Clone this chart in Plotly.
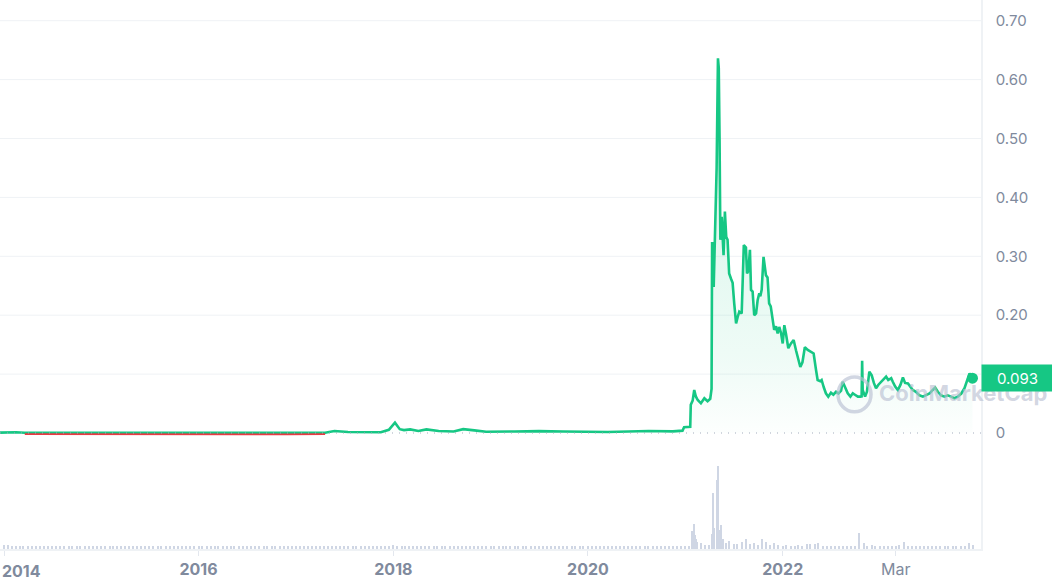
import pandas as pd
import plotly.graph_objects as go

GREEN = "#16c784"
RED = "#ea3943"
TEXT_GREY = "#808a9d"
GRID = "#eff2f5"
VOL_COLOR = "#cfd6e4"

# price (USD)
price_dates = [
    "2013-12-17", "2014-01-20", "2014-02-15", "2014-03-20", "2014-06-01",
    "2014-09-01", "2015-01-01", "2015-06-01", "2015-12-01", "2016-06-01",
    "2016-12-01", "2017-04-20", "2017-05-25", "2017-07-15", "2017-09-01",
    "2017-11-15", "2017-12-15", "2018-01-07", "2018-01-25", "2018-02-10",
    "2018-03-05", "2018-04-05", "2018-05-05", "2018-06-20", "2018-08-15",
    "2018-09-20", "2018-11-01", "2018-12-15", "2019-04-01", "2019-07-01",
    "2019-10-01", "2020-01-01", "2020-03-15", "2020-06-01", "2020-08-15",
    "2020-11-15", "2020-12-21", "2020-12-27", "2021-01-19", "2021-01-21",
    "2021-01-28", "2021-02-03", "2021-02-09", "2021-02-16", "2021-02-28",
    "2021-03-13", "2021-03-25", "2021-04-04", "2021-04-09", "2021-04-11",
    "2021-04-14", "2021-04-17", "2021-04-22", "2021-04-28", "2021-05-03",
    "2021-05-06", "2021-05-09", "2021-05-12", "2021-05-17", "2021-05-21",
    "2021-05-24", "2021-05-29", "2021-06-03", "2021-06-08", "2021-06-14",
    "2021-06-21", "2021-06-27", "2021-07-03", "2021-07-10", "2021-07-16",
    "2021-07-22", "2021-07-31", "2021-08-08", "2021-08-16", "2021-08-20",
    "2021-08-25", "2021-08-31", "2021-09-04", "2021-09-10", "2021-09-16",
    "2021-09-23", "2021-09-29", "2021-10-05", "2021-10-09", "2021-10-14",
    "2021-10-21", "2021-10-30", "2021-11-05", "2021-11-11", "2021-11-17",
    "2021-11-24", "2021-11-30", "2021-12-07", "2021-12-13", "2021-12-19",
    "2021-12-26", "2022-01-01", "2022-01-07", "2022-01-13", "2022-01-22",
    "2022-02-01", "2022-02-11", "2022-02-20", "2022-02-26", "2022-03-08",
    "2022-03-16", "2022-03-25", "2022-04-05", "2022-04-17", "2022-04-27",
    "2022-05-06", "2022-05-12", "2022-05-22", "2022-05-27", "2022-06-04",
    "2022-06-12", "2022-06-21", "2022-07-01", "2022-07-10", "2022-07-20",
    "2022-07-29", "2022-08-08", "2022-08-14", "2022-08-23", "2022-09-02",
    "2022-09-12", "2022-09-21", "2022-09-29", "2022-10-10", "2022-10-19",
    "2022-10-24", "2022-10-26", "2022-10-28", "2022-11-06", "2022-11-13",
    "2022-11-22", "2022-12-01", "2022-12-09", "2022-12-17", "2022-12-26",
    "2023-01-05", "2023-01-15", "2023-01-24", "2023-02-01", "2023-02-12",
    "2023-02-18", "2023-02-27", "2023-03-09", "2023-03-19", "2023-03-28",
    "2023-04-05", "2023-04-16", "2023-04-25", "2023-05-04", "2023-05-16",
    "2023-05-29", "2023-06-11", "2023-06-23", "2023-07-06", "2023-07-18",
    "2023-07-27", "2023-08-06", "2023-08-18", "2023-08-31", "2023-09-12",
    "2023-09-25", "2023-10-07", "2023-10-20", "2023-11-02", "2023-11-14",
    "2023-11-23", "2023-12-03", "2023-12-14",
]
price_values = [
    0.00056, 0.0016, 0.0012, 0.0005, 0.0004,
    0.00025, 0.00015, 0.00013, 0.00015, 0.0003,
    0.00022, 0.0005, 0.0033, 0.0018, 0.0012,
    0.0013, 0.0055, 0.0175, 0.0065, 0.005,
    0.0062, 0.0035, 0.0062, 0.0035, 0.0025,
    0.0065, 0.0045, 0.0022, 0.0025, 0.0032,
    0.0026, 0.002, 0.0017, 0.0025, 0.0033,
    0.0027, 0.004, 0.0097, 0.0105, 0.048,
    0.055, 0.073, 0.062, 0.056, 0.0504,
    0.059, 0.054, 0.058, 0.075, 0.322,
    0.322, 0.248, 0.328, 0.45, 0.636,
    0.62, 0.50, 0.328, 0.367, 0.34,
    0.302, 0.376, 0.333, 0.328, 0.271,
    0.262, 0.255, 0.220, 0.186, 0.197,
    0.206, 0.203, 0.319, 0.315, 0.271,
    0.275, 0.311, 0.243, 0.240, 0.200,
    0.203, 0.226, 0.237, 0.232, 0.243,
    0.299, 0.268, 0.264, 0.220, 0.215,
    0.197, 0.175, 0.181, 0.169, 0.180,
    0.169, 0.152, 0.183, 0.169, 0.144,
    0.152, 0.158, 0.140, 0.130, 0.112,
    0.120, 0.1455, 0.141, 0.138, 0.135,
    0.107, 0.090, 0.088, 0.090, 0.0776,
    0.0674, 0.0617, 0.0685, 0.065, 0.070,
    0.067, 0.072, 0.087, 0.076, 0.0674,
    0.0617, 0.0674, 0.065, 0.0617, 0.0617,
    0.062, 0.1228, 0.073, 0.0617, 0.070,
    0.104, 0.098, 0.085, 0.076, 0.082,
    0.087, 0.093, 0.0956, 0.090, 0.093,
    0.087, 0.079, 0.073, 0.082, 0.0945,
    0.085, 0.084, 0.078, 0.073, 0.070,
    0.064, 0.0617, 0.064, 0.067, 0.073,
    0.077, 0.070, 0.064, 0.0617, 0.064,
    0.0617, 0.059, 0.0617, 0.067, 0.076,
    0.090, 0.101, 0.093,
]
baseline_price = 0.00056
last_price_label = "0.093"

# volume, relative bar heights, one bar per half month (1st / 15th)
vol_2014 = [4, 4, 3, 3, 3, 3, 3, 3, 3, 3, 3, 3, 3, 3, 3, 3, 3, 3, 3, 3, 3, 3, 3, 3]
vol_2015 = [3, 3, 3, 3, 3, 3, 3, 3, 3, 3, 3, 3, 3, 3, 3, 3, 3, 3, 3, 3, 3, 3, 3, 3]
vol_2016 = [3, 3, 3, 3, 3, 3, 3, 3, 3, 3, 3, 3, 3, 3, 3, 3, 3, 3, 3, 3, 3, 3, 3, 3]
vol_2017 = [3, 3, 3, 3, 3, 3, 3, 3, 3, 3, 3, 3, 3, 3, 3, 3, 3, 3, 3, 3, 3, 3, 3, 3]
vol_2018 = [4, 3, 3, 3, 3, 3, 3, 3, 3, 3, 3, 3, 3, 3, 3, 3, 3, 3, 3, 3, 3, 3, 3, 3]
vol_2019 = [3, 3, 3, 3, 3, 3, 3, 3, 3, 3, 3, 3, 3, 3, 3, 3, 3, 3, 3, 3, 3, 3, 3, 3]
vol_2020 = [3, 3, 3, 3, 3, 3, 3, 3, 3, 3, 3, 3, 3, 3, 3, 3, 3, 3, 3, 3, 3, 3, 3, 3]
vol_2021 = [3, 3, 25, 7, 6, 4, 4, 56, 69, 24, 6, 8, 5, 5, 7, 10, 5, 6, 4, 10, 7, 4, 6, 4]
vol_2022 = [3, 4, 3, 3, 4, 3, 5, 5, 5, 6, 3, 3, 3, 3, 3, 3, 3, 3, 3, 16, 6, 3, 4, 3]
vol_2023 = [3, 3, 3, 3, 3, 4, 7, 3, 3, 3, 3, 3, 3, 3, 3, 3, 3, 3, 3, 3, 3, 3, 6, 4]

# extra bars in the busy early-2021 stretch
vol_extra_dates = ["2021-01-25", "2021-02-05", "2021-02-10", "2021-04-09", "2021-04-20",
                   "2021-04-28", "2021-05-05", "2021-05-09", "2021-05-21"]
vol_extra_values = [18, 14, 10, 15, 21, 11, 83, 19, 10]

x_tick_dates = ["2014-01-01", "2016-01-01", "2018-01-01", "2020-01-01", "2022-01-01", "2023-03-01"]
x_tick_text = ["", "<b>2016</b>", "<b>2018</b>", "<b>2020</b>", "<b>2022</b>", "Mar"]
y_tick_vals = [0, 0.1, 0.2, 0.3, 0.4, 0.5, 0.6, 0.7]
y_tick_text = ["0", "0.10", "0.20", "0.30", "0.40", "0.50", "0.60", "0.70"]

vol_values = (vol_2014 + vol_2015 + vol_2016 + vol_2017 + vol_2018
              + vol_2019 + vol_2020 + vol_2021 + vol_2022 + vol_2023)
vol_dates = pd.date_range("2014-01-01", periods=len(vol_values), freq="SMS")
vol_dates = list(vol_dates) + list(pd.to_datetime(vol_extra_dates))
vol_values = vol_values + vol_extra_values

price_dates = pd.to_datetime(price_dates)
red_values = [v if v < baseline_price else None for v in price_values]

Y_RANGE = [-0.19694, 0.73514]
RED_SHIFT = 0.0025  # draw the red part ~1.5px lower, under the green line

fig = go.Figure()

fig.add_trace(go.Bar(
    x=vol_dates, y=vol_values, yaxis="y2",
    marker=dict(color=VOL_COLOR, line=dict(width=0)),
    width=4 * 24 * 3600 * 1000,
    showlegend=False, hoverinfo="skip",
))

fig.add_trace(go.Scatter(
    x=price_dates, y=red_values, yaxis="y3", mode="lines",
    line=dict(color=RED, width=1.8), connectgaps=False,
    showlegend=False, hoverinfo="skip",
))

fig.add_trace(go.Scatter(
    x=price_dates, y=price_values, mode="lines",
    line=dict(color=GREEN, width=2.6),
    fill="tozeroy",
    fillgradient=dict(
        type="vertical",
        colorscale=[[0, "rgba(22,199,132,0.01)"], [0.2, "rgba(22,199,132,0.07)"],
                    [0.5, "rgba(22,199,132,0.12)"], [1, "rgba(22,199,132,0.2)"]],
        start=0, stop=0.64,
    ),
    showlegend=False,
))

fig.add_trace(go.Scatter(
    x=[price_dates[-1]], y=[price_values[-1]], mode="markers",
    marker=dict(color=GREEN, size=11),
    showlegend=False, hoverinfo="skip",
))

shapes = []
for v in y_tick_vals[1:]:
    shapes.append(dict(type="line", xref="paper", x0=0, x1=1, yref="y", y0=v, y1=v,
                       line=dict(color=GRID, width=1), layer="below"))
shapes.append(dict(type="line", xref="paper", x0=0, x1=1, yref="y", y0=0, y1=0,
                   line=dict(color="#a3acbd", width=1, dash="1px,6px")))
shapes.append(dict(type="line", xref="paper", x0=0, x1=1, yref="y2", y0=57, y1=57,
                   line=dict(color=GRID, width=1.5), layer="below"))
# watermark ring
shapes.append(dict(type="circle", xref="paper", yref="y",
                   x0=838 / 981, x1=871 / 981, y0=0.036, y1=0.095,
                   line=dict(color="rgba(185,192,210,0.65)", width=3.5)))

fig.update_layout(
    width=1052, height=587,
    margin=dict(l=0, r=71, t=0, b=38, autoexpand=False),
    paper_bgcolor="white", plot_bgcolor="white",
    font=dict(family="Inter, Roboto, sans-serif", color=TEXT_GREY, size=15),
    bargap=0,
    shapes=shapes,
    xaxis=dict(
        type="date", range=["2013-12-17", "2024-01-15"],
        tickvals=x_tick_dates, ticktext=x_tick_text,
        ticks="outside", ticklen=5, tickcolor="#e3e7ee",
        showline=True, linecolor=GRID, linewidth=1.5,
        showgrid=False, zeroline=False, automargin=False,
        tickfont=dict(size=16, color=TEXT_GREY),
    ),
    yaxis=dict(
        domain=[0, 1], range=Y_RANGE, side="right",
        tickvals=y_tick_vals, ticktext=y_tick_text,
        showgrid=False, zeroline=False, automargin=False,
        showline=True, linecolor=GRID, linewidth=1.5,
        ticks="", ticklabelstandoff=10,
        tickfont=dict(size=15, color=TEXT_GREY),
    ),
    yaxis2=dict(
        domain=[0, 109 / 549], range=[0, 109], anchor="x",
        showticklabels=False, showgrid=False, zeroline=False, automargin=False,
    ),
    yaxis3=dict(
        overlaying="y", range=[Y_RANGE[0] + RED_SHIFT, Y_RANGE[1] + RED_SHIFT],
        visible=False,
    ),
    annotations=[
        dict(text="<b>2014</b>", xref="paper", x=0, xanchor="left",
             yref="paper", y=0, yanchor="top", yshift=-10, showarrow=False,
             font=dict(size=16, color=TEXT_GREY)),
        dict(text="CoinMarketCap", xref="paper", x=877 / 981, xanchor="left",
             yref="y", y=0.068, showarrow=False,
             font=dict(size=22, color="rgba(185,192,210,0.65)", weight=700)),
        dict(text=last_price_label, xref="paper", x=1, xanchor="left",
             yref="y", y=price_values[-1], showarrow=False,
             bgcolor=GREEN, width=69, height=24, borderpad=1,
             font=dict(size=15, color="white")),
    ],
)

# the page's default 8px body margin would push the chart off its frame
fig.write_html(
    "out.html",
    config={"displayModeBar": False},
    post_script="document.body.style.margin='0';document.body.style.overflow='hidden';",
)
